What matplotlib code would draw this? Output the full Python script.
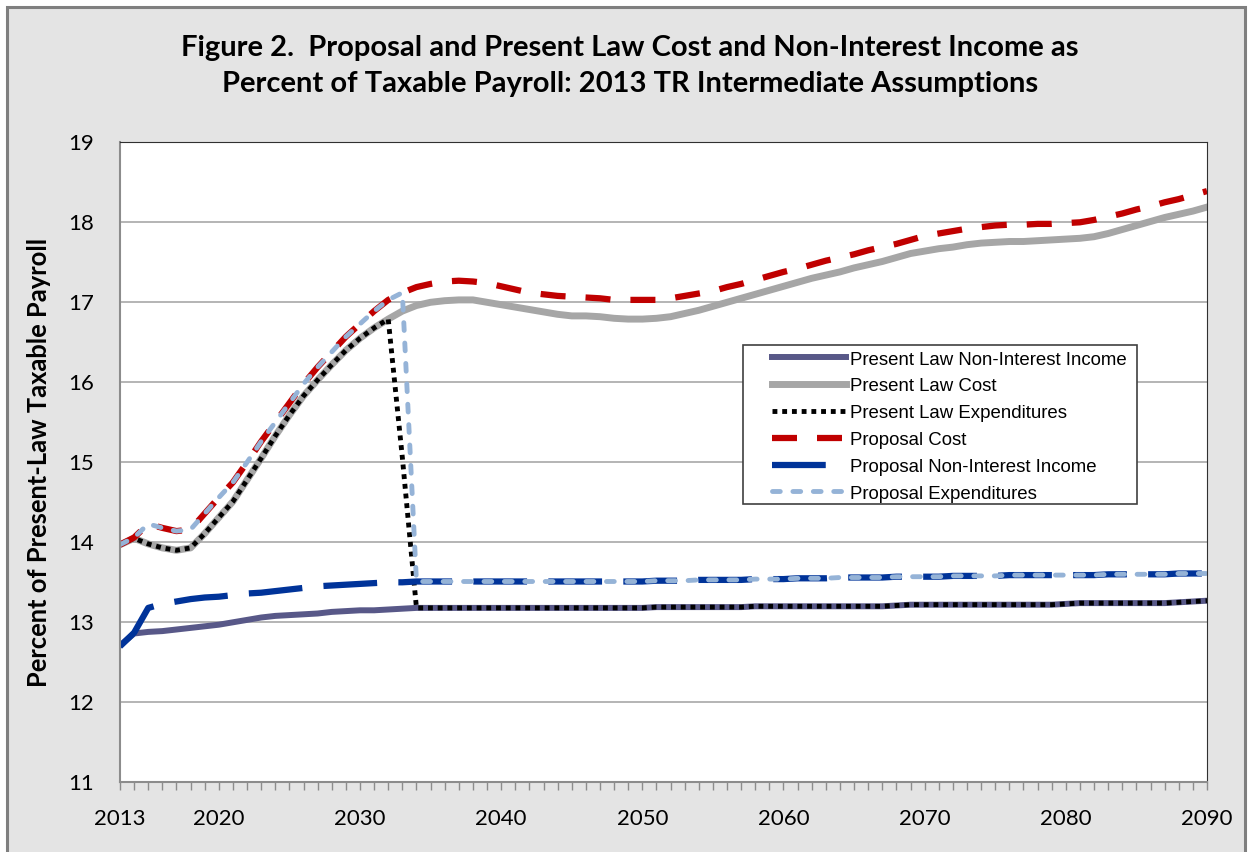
"""
Figure 2: Proposal and Present Law cost / non-interest income as percent of taxable payroll.
"""
import numpy as np
import matplotlib
matplotlib.use('Agg')
import matplotlib.pyplot as plt
from matplotlib.patches import Rectangle
from matplotlib.ticker import MultipleLocator

plt.rcParams['font.family'] = ['Lato', 'DejaVu Sans']

years = list(range(2013, 2091))

# Present Law Cost
pl_cost = [13.96, 14.04, 13.97, 13.92, 13.89, 13.92, 14.10, 14.30, 14.50, 14.77,
           15.04, 15.32, 15.58, 15.82, 16.02, 16.21, 16.39, 16.54, 16.67, 16.78,
           16.88, 16.95, 16.99, 17.01, 17.02, 17.02, 16.99, 16.96, 16.93, 16.90,
           16.87, 16.84, 16.82, 16.82, 16.81, 16.79, 16.78, 16.78, 16.79, 16.81,
           16.85, 16.89, 16.94, 16.99, 17.04, 17.09, 17.14, 17.19, 17.24, 17.29,
           17.33, 17.37, 17.42, 17.46, 17.50, 17.55, 17.60, 17.63, 17.66, 17.68,
           17.71, 17.73, 17.74, 17.75, 17.75, 17.76, 17.77, 17.78, 17.79, 17.81,
           17.85, 17.90, 17.95, 18.00, 18.05, 18.09, 18.13, 18.18]

# Present Law Non-Interest Income
pl_income = [12.70, 12.85, 12.87, 12.88, 12.90, 12.92, 12.94, 12.96, 12.99, 13.02,
             13.05, 13.07, 13.08, 13.09, 13.10, 13.12, 13.13, 13.14, 13.14, 13.15,
             13.16, 13.17, 13.17, 13.17, 13.17, 13.17, 13.17, 13.17, 13.17, 13.17,
             13.17, 13.17, 13.17, 13.17, 13.17, 13.17, 13.17, 13.17, 13.18, 13.18,
             13.18, 13.18, 13.18, 13.18, 13.18, 13.19, 13.19, 13.19, 13.19, 13.19,
             13.19, 13.19, 13.19, 13.19, 13.19, 13.20, 13.21, 13.21, 13.21, 13.21,
             13.21, 13.21, 13.21, 13.21, 13.21, 13.21, 13.21, 13.22, 13.23, 13.23,
             13.23, 13.23, 13.23, 13.23, 13.23, 13.24, 13.25, 13.26]

# Present Law Expenditures: cost until depletion (2033 partial year), then income
pl_exp = pl_cost[:20] + [15.05] + pl_income[21:]

# Proposal Cost
pr_cost = [13.96, 14.05, 14.22, 14.17, 14.13, 14.15, 14.35, 14.55, 14.74, 14.99,
           15.25, 15.49, 15.73, 15.97, 16.18, 16.37, 16.56, 16.72, 16.88, 17.02,
           17.11, 17.18, 17.22, 17.25, 17.26, 17.25, 17.23, 17.19, 17.15, 17.11,
           17.09, 17.07, 17.06, 17.05, 17.04, 17.02, 17.02, 17.02, 17.02, 17.04,
           17.07, 17.10, 17.13, 17.18, 17.22, 17.27, 17.32, 17.37, 17.41, 17.46,
           17.51, 17.55, 17.59, 17.64, 17.68, 17.72, 17.77, 17.82, 17.85, 17.88,
           17.91, 17.93, 17.95, 17.96, 17.96, 17.97, 17.97, 17.98, 17.99, 18.02,
           18.06, 18.10, 18.15, 18.19, 18.24, 18.28, 18.33, 18.38]

# Proposal Non-Interest Income
pr_income = [12.69, 12.86, 13.17, 13.22, 13.25, 13.28, 13.30, 13.31, 13.33, 13.35,
             13.36, 13.38, 13.40, 13.42, 13.44, 13.45, 13.46, 13.47, 13.48, 13.49,
             13.49, 13.50, 13.50, 13.50, 13.50, 13.50, 13.50, 13.50, 13.50, 13.50,
             13.50, 13.50, 13.50, 13.50, 13.50, 13.50, 13.50, 13.50, 13.51, 13.51,
             13.51, 13.52, 13.52, 13.52, 13.52, 13.53, 13.53, 13.53, 13.54, 13.54,
             13.54, 13.55, 13.55, 13.55, 13.55, 13.56, 13.56, 13.56, 13.56, 13.57,
             13.57, 13.57, 13.57, 13.58, 13.58, 13.58, 13.58, 13.58, 13.58, 13.58,
             13.59, 13.59, 13.59, 13.59, 13.59, 13.60, 13.60, 13.60]

# Proposal Expenditures: cost through 2033, then income
pr_exp = pr_cost[:21] + pr_income[21:]

tick_years = [2013, 2020, 2030, 2040, 2050, 2060, 2070, 2080, 2090]

W, H = 1248, 853
fig = plt.figure(figsize=(W / 100, H / 100), dpi=100, facecolor='white')
# grey chart area with border
fig.patches.append(Rectangle((7 / W, -0.05), (1245 - 7) / W, 1.05 - 8 / H,
                             transform=fig.transFigure, facecolor='#E4E4E4',
                             edgecolor='#7F7F7F', linewidth=2.2, zorder=-5))

ax = fig.add_axes([120 / W, 1 - 782.5 / H, (1207 - 120) / W, 640 / H])
ax.set_zorder(2)
ax.set_facecolor('white')

ax.plot(years, pl_income, color='#585888', lw=4.3, solid_joinstyle='round',
        label='Present Law Non-Interest Income')
ax.plot(years, pl_cost, color='#A6A6A6', lw=5.0, solid_joinstyle='round',
        label='Present Law Cost')
ax.plot(years, pl_exp, color='black', lw=3.5, linestyle=(0, (1, 1)),
        label='Present Law Expenditures')
ax.plot(years, pr_cost, color='#C00000', lw=4.5, linestyle=(0, (4.0, 3.2)),
        label='Proposal Cost')
ax.plot(years, pr_income, color='#003399', lw=4.5, linestyle=(0, (8.6, 3.4)),
        label='Proposal Non-Interest Income')
ax.plot(years, pr_exp, color='#95B3D7', lw=3.5, linestyle=(0, (1.6, 2.6)),
        dash_capstyle='round', label='Proposal Expenditures')

ax.set_xlim(2013, 2090)
ax.set_ylim(11, 19)
ax.set_xticks(tick_years)
ax.xaxis.set_minor_locator(MultipleLocator(1))
ax.tick_params(axis='x', which='both', direction='out', length=6, width=1,
               color='#8C8C8C', pad=13, labelsize=16)
ax.tick_params(axis='y', length=0, pad=19, labelsize=16)
ax.yaxis.grid(True, color='#A0A0A0', lw=1.1)
ax.set_axisbelow(True)
for side in ['top', 'right']:
    ax.spines[side].set_color('#303030')
for side in ['left', 'bottom']:
    ax.spines[side].set_color('#8C8C8C')
    ax.spines[side].set_linewidth(1.5)

ax.set_ylabel('Percent of Present-Law Taxable Payroll', fontsize=18.4,
              fontweight='bold', labelpad=12)

fig.text(0.505, 0.944, 'Figure 2.  Proposal and Present Law Cost and Non-Interest Income as',
         ha='center', va='center', fontsize=21, fontweight='bold')
fig.text(0.505, 0.902, 'Percent of Taxable Payroll: 2013 TR Intermediate Assumptions',
         ha='center', va='center', fontsize=21, fontweight='bold')

# legend box drawn separately so the handles sit well inside it
ax.add_patch(Rectangle((743 / W, 1 - 505 / H), (1137 - 743) / W, (505 - 346) / H,
                       transform=fig.transFigure, facecolor='white', clip_on=False,
                       edgecolor='#404040', linewidth=1.2, zorder=5))
leg = ax.legend(loc='upper left', bbox_to_anchor=(772 / W, 1 - 351.5 / H),
                bbox_transform=fig.transFigure, borderaxespad=0, borderpad=0,
                prop={'family': 'Liberation Sans', 'size': 13.4},
                handlelength=4.0, handletextpad=0.2, labelspacing=0.53,
                frameon=False)
leg.set_zorder(6)

fig.savefig('out.png', dpi=100, facecolor=fig.get_facecolor())
